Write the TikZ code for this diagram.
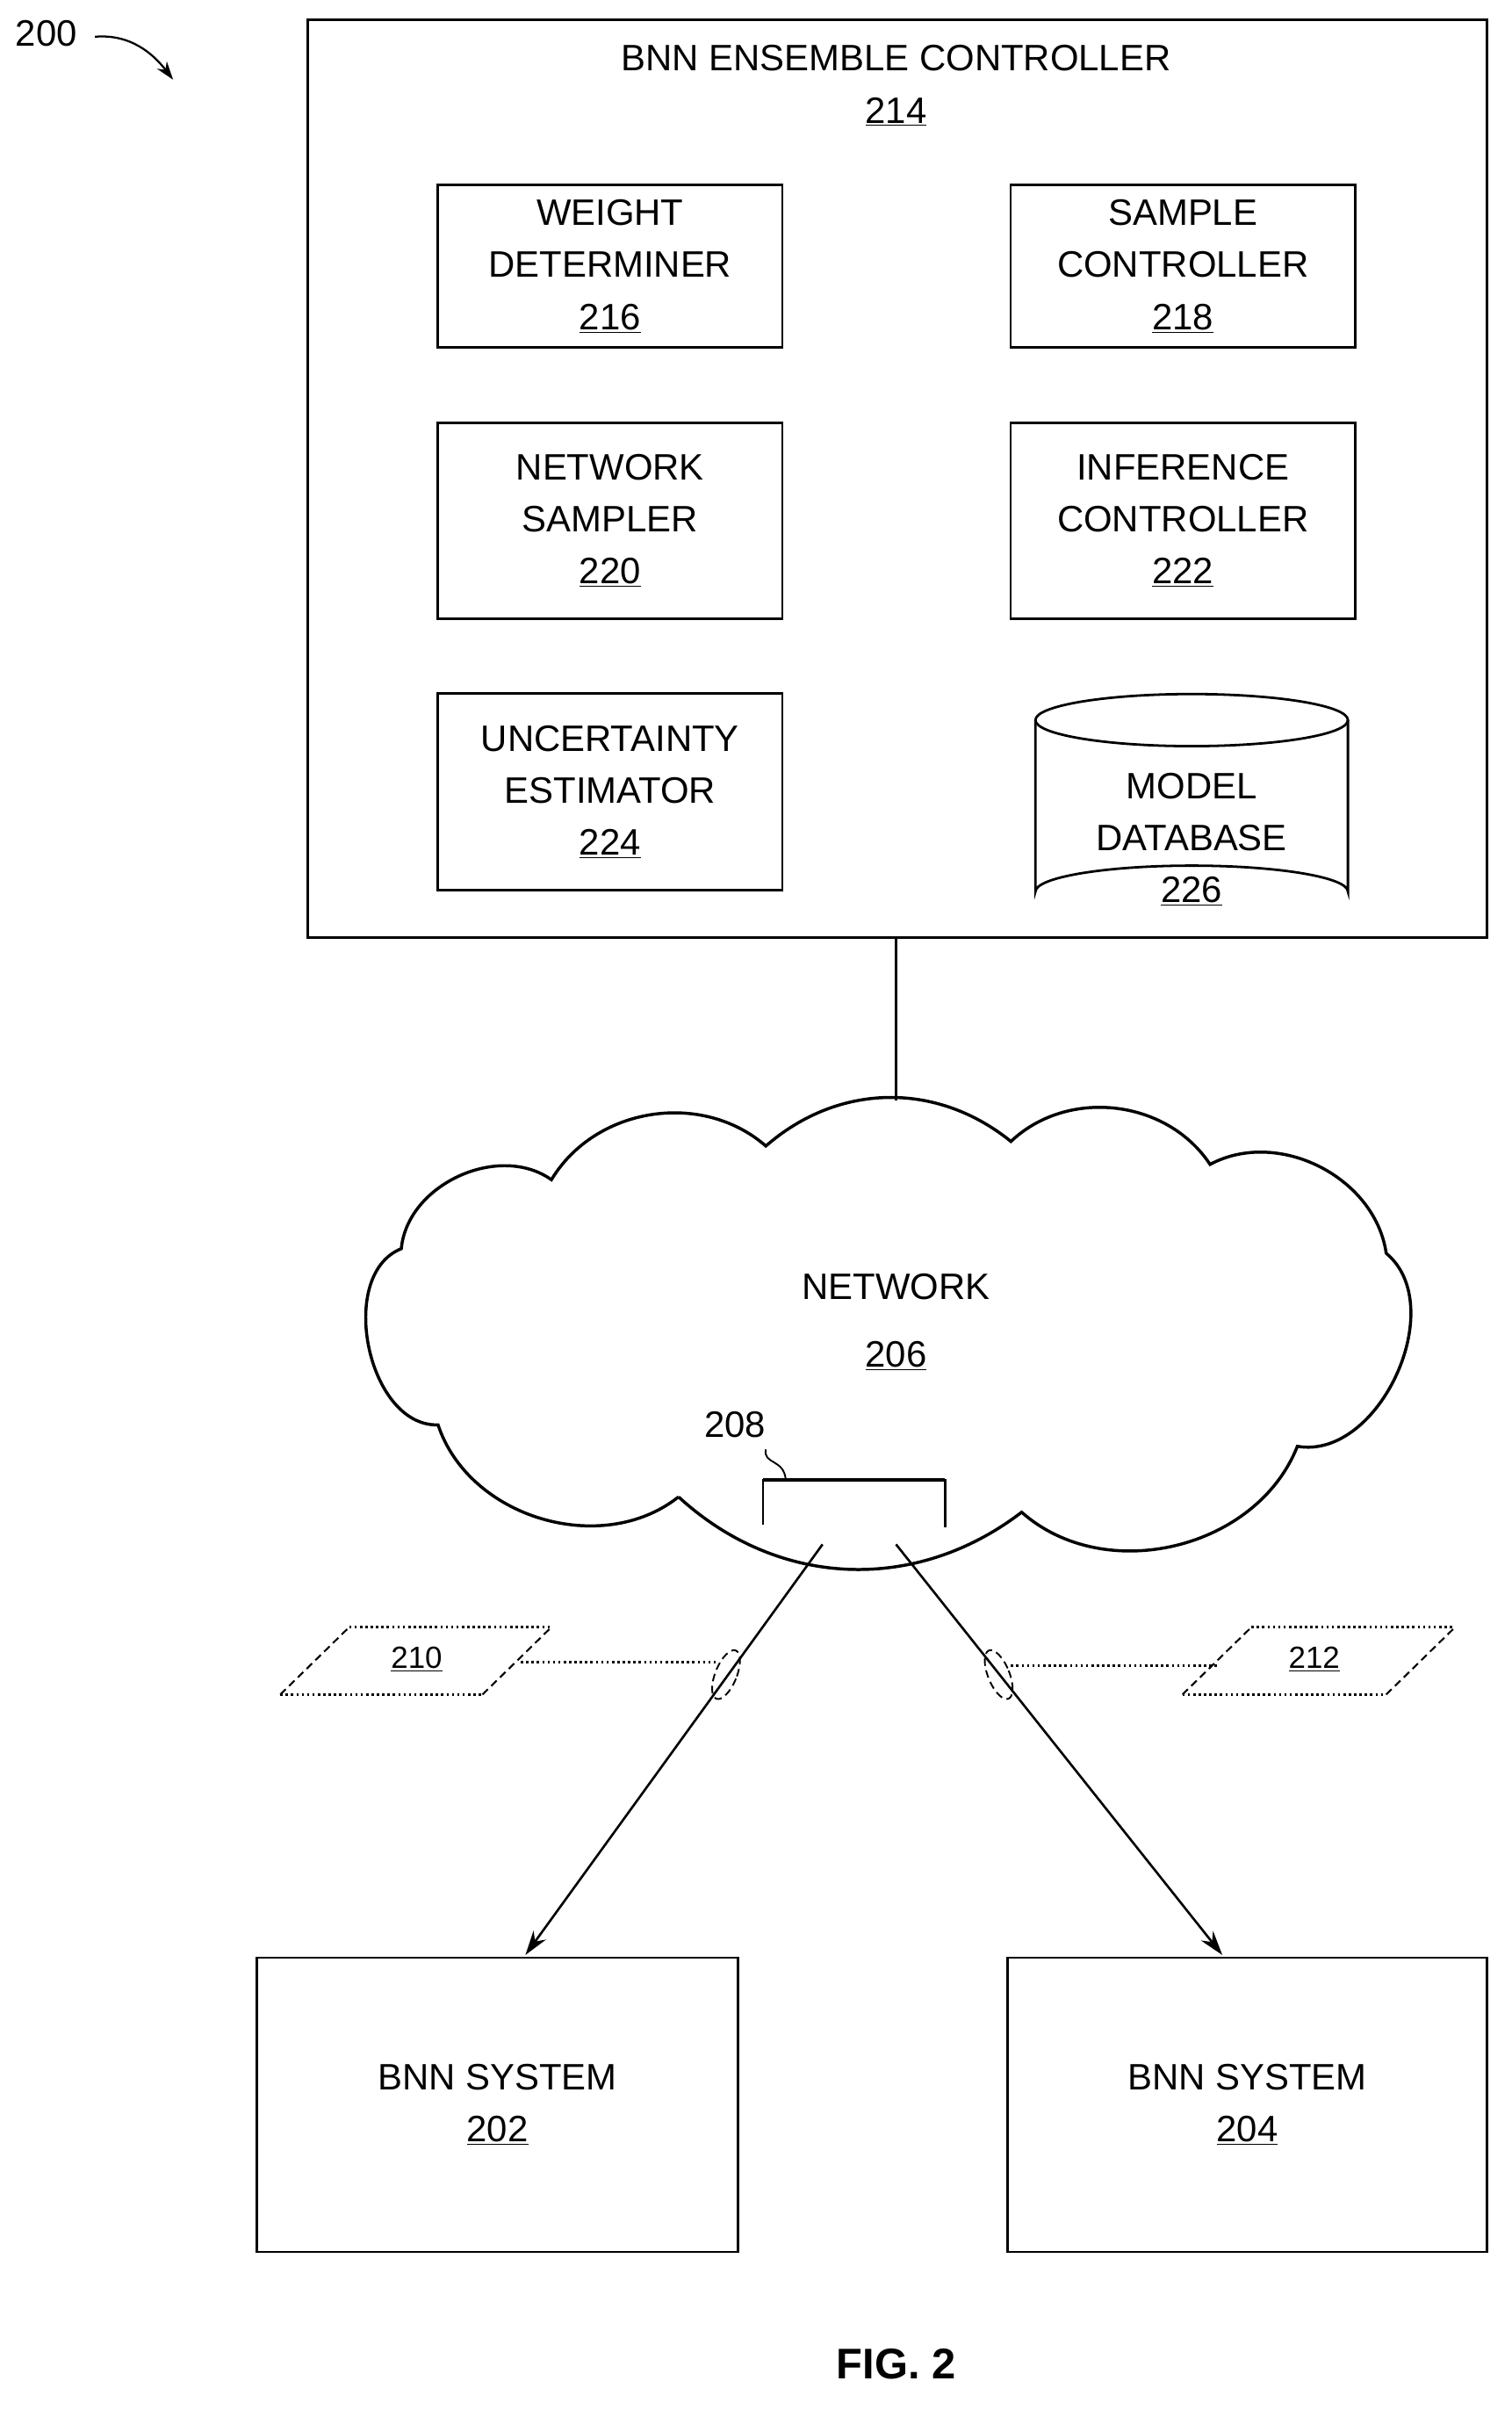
\documentclass[tikz,border=0pt]{standalone}
\usepackage{fontspec}
\setmainfont{Liberation Sans}
\usetikzlibrary{arrows.meta}
\begin{document}
\begin{tikzpicture}[x=1pt,y=-1pt,
  box/.style={draw,line width=1.6pt},
  txt/.style={font=\fontsize{24}{34}\selectfont,align=center,inner sep=0pt},
  dsh/.style={line width=1.2pt,dash pattern=on 5pt off 3pt},
  dot/.style={line width=1.8pt,dash pattern=on 1.5pt off 2pt},
  arr/.style={line width=1.5pt,-{Stealth[length=16pt,width=10pt]}}]
\useasboundingbox (0,0) rectangle (987,1573);
\node[txt,anchor=west] (l200) at (10,22) {200};
\coordinate (a200) at (113,52);
\draw[line width=1.3pt,-{Stealth[length=12pt,width=8pt]}] (62,24) .. controls (85,22) and (100,35) .. (a200);
\node[box,minimum width=770,minimum height=599,anchor=north west] (ctl) at (200,12) {};
\node[txt] (t214) at (585,56) {BNN ENSEMBLE CONTROLLER\\\underline{214}};
\node[box,minimum width=225,minimum height=106,anchor=north west,txt] (b216) at (285,120) {WEIGHT\\DETERMINER\\\underline{216}};
\node[box,minimum width=225,minimum height=106,anchor=north west,txt] (b218) at (659,120) {SAMPLE\\CONTROLLER\\\underline{218}};
\node[box,minimum width=225,minimum height=128,anchor=north west,txt] (b220) at (285,275) {NETWORK\\SAMPLER\\\underline{220}};
\node[box,minimum width=225,minimum height=128,anchor=north west,txt] (b222) at (659,275) {INFERENCE\\CONTROLLER\\\underline{222}};
\node[box,minimum width=225,minimum height=128,anchor=north west,txt] (b224) at (285,452) {UNCERTAINTY\\ESTIMATOR\\\underline{224}};
% cylinder
\draw[line width=1.6pt] (778,470) ellipse [x radius=102,y radius=17];
\draw[line width=1.6pt] (676,470) -- (676,582) arc[start angle=180,end angle=360,x radius=102,y radius=17] -- (880,470);
\node[txt] (b226) at (778,548) {MODEL\\DATABASE\\\underline{226}};
% cloud
\draw[line width=2pt] (443,977) to[bend left=55] (286,930) to[bend left=80] (262,815)
  to[bend left=60] (360,770) to[bend left=50] (500,748) to[bend left=40] (660,745)
  to[bend left=50] (790,760) to[bend left=55] (905,818) to[bend left=75] (847,944)
  to[bend left=55] (667,987) to[bend left=40] (443,977);
\coordinate (ctop) at (585,718);
\draw[line width=1.4pt] (585,611) -- (ctop);
\node[txt] (net) at (585,863) {NETWORK\\[10pt]\underline{206}};
% 208
\draw[line width=1.4pt] (498,995) -- (498,966) -- (617,966) -- (617,997);
\draw[line width=2.4pt] (498,966) -- (617,966);
\node[txt] (l208) at (480,930) {208};
\draw[line width=1.1pt] (500,946) .. controls (498,956) and (512,952) .. (513,966);
% connectors
\coordinate (s1) at (537,1008);
\coordinate (s2) at (585,1008);
\node[box,minimum width=314,minimum height=192,anchor=north west,txt] (b202) at (167,1277) {BNN SYSTEM\\\underline{202}};
\node[box,minimum width=313,minimum height=192,anchor=north west,txt] (b204) at (657,1277) {BNN SYSTEM\\\underline{204}};
\draw[arr] (s1) -- (343,1276);
\draw[arr] (s2) -- (798,1276);
% 210 / 212
\draw[dsh] (183,1106) -- (228,1062); \draw[dsh] (315,1106) -- (360,1062);
\draw[dot] (228,1062) -- (360,1062); \draw[dot] (183,1106) -- (315,1106);
\node[txt,font=\fontsize{20}{24}\selectfont] (p210) at (272,1083) {\underline{210}};
\draw[dsh] (772,1106) -- (817,1062); \draw[dsh] (905,1106) -- (950,1062);
\draw[dot] (817,1062) -- (950,1062); \draw[dot] (772,1106) -- (905,1106);
\node[txt,font=\fontsize{20}{24}\selectfont] (p212) at (858,1083) {\underline{212}};
\draw[dsh,line width=1.1pt] (474,1093) ellipse [x radius=7,y radius=17,rotate=-22];
\draw[dsh,line width=1.1pt] (652,1093) ellipse [x radius=7,y radius=17,rotate=22];
\draw[dot] (340,1085) -- (467,1085);
\draw[dot] (660,1087) -- (795,1087);
\node[txt,font=\bfseries\fontsize{28}{34}\selectfont] (fig) at (585,1543) {FIG. 2};
\end{tikzpicture}
\end{document}
